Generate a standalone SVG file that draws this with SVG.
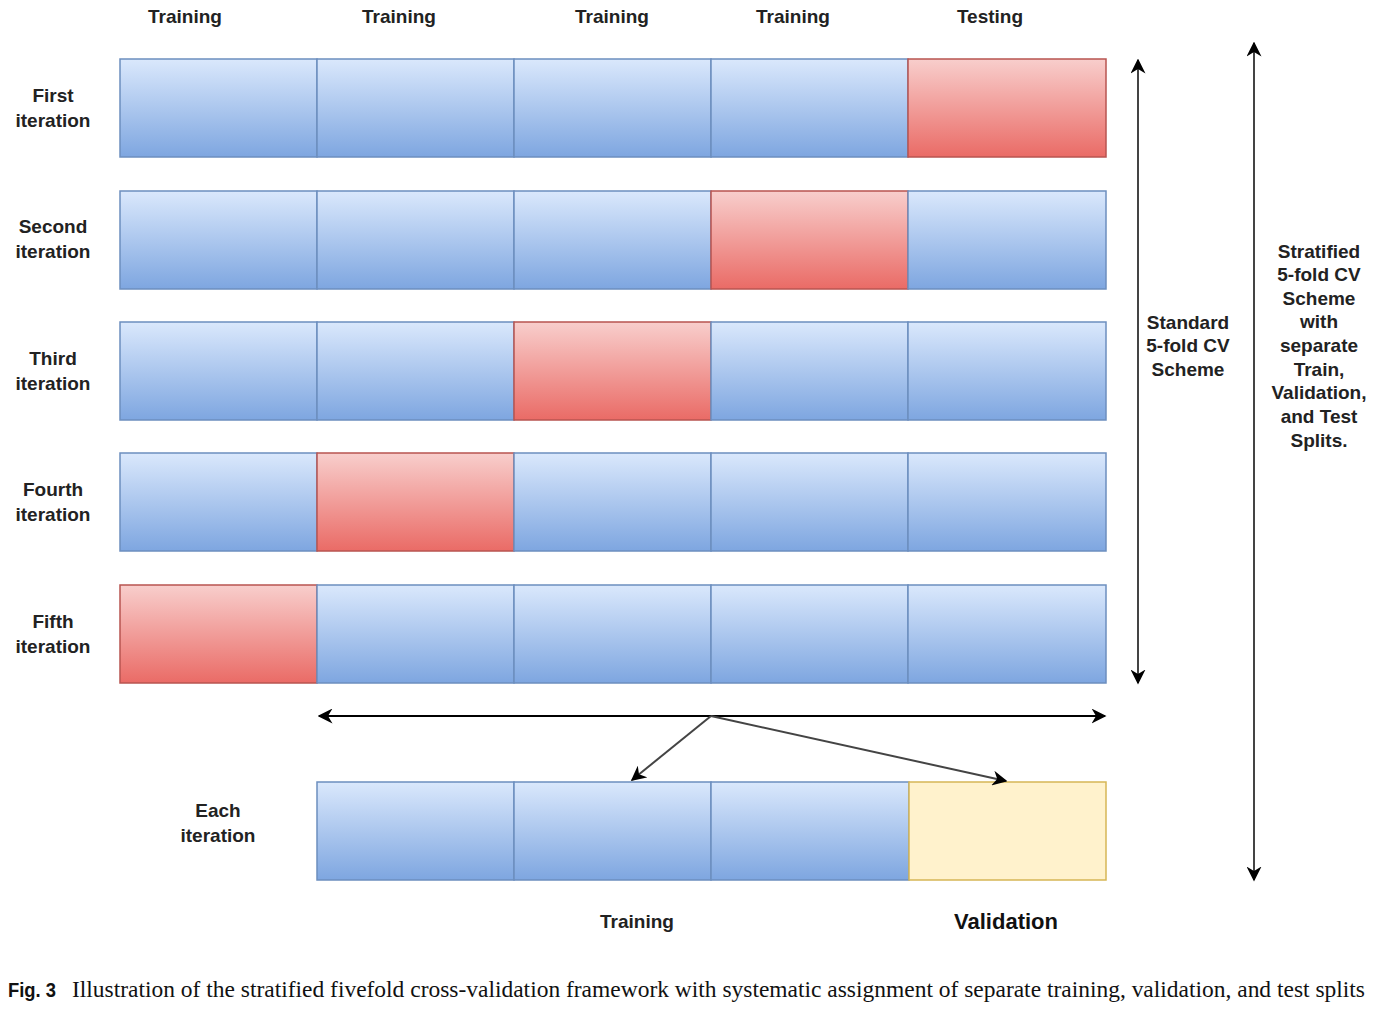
<svg xmlns="http://www.w3.org/2000/svg" width="1378" height="1011" viewBox="0 0 1378 1011">
<defs>
<linearGradient id="gb" x1="0" y1="0" x2="0" y2="1"><stop offset="0" stop-color="#dae8fc"/><stop offset="1" stop-color="#7ea6e0"/></linearGradient>
<linearGradient id="gr" x1="0" y1="0" x2="0" y2="1"><stop offset="0" stop-color="#f8cecc"/><stop offset="1" stop-color="#ea6b66"/></linearGradient>
<marker id="ah2" viewBox="0 0 10 10" refX="9" refY="5" markerWidth="15" markerHeight="15" markerUnits="userSpaceOnUse" orient="auto-start-reverse"><path d="M0,0 L10,5 L0,10 L3,5 Z" fill="#000"/></marker>
</defs>
<style>
.b{fill:url(#gb);stroke:#6c8ebf;stroke-width:1.5}
.r{fill:url(#gr);stroke:#b85450;stroke-width:1.5}
.y{fill:#fff2cc;stroke:#d6b656;stroke-width:1.5}
.t{font-family:"Liberation Sans",Arial,sans-serif;font-weight:bold;font-size:19px;fill:#222;text-anchor:middle}
.c{stroke:#000;stroke-width:2;fill:none}
.d{stroke:#444;stroke-width:2;fill:none}
</style>
<rect width="1378" height="1011" fill="#fff"/>
<g id="headers">
<text class="t" x="185" y="23">Training</text>
<text class="t" x="399" y="23">Training</text>
<text class="t" x="612" y="23">Training</text>
<text class="t" x="793" y="23">Training</text>
<text class="t" x="990" y="23">Testing</text>
</g>
<g id="row1">
<text class="t" x="53" y="102">First</text><text class="t" x="53" y="127">iteration</text>
<rect class="b" x="120" y="59" width="197" height="98"/><rect class="b" x="317" y="59" width="197" height="98"/><rect class="b" x="514" y="59" width="197" height="98"/><rect class="b" x="711" y="59" width="197" height="98"/><rect class="r" x="908" y="59" width="198" height="98"/>
</g>
<g id="row2">
<text class="t" x="53" y="233">Second</text><text class="t" x="53" y="258">iteration</text>
<rect class="b" x="120" y="191" width="197" height="98"/><rect class="b" x="317" y="191" width="197" height="98"/><rect class="b" x="514" y="191" width="197" height="98"/><rect class="r" x="711" y="191" width="197" height="98"/><rect class="b" x="908" y="191" width="198" height="98"/>
</g>
<g id="row3">
<text class="t" x="53" y="365">Third</text><text class="t" x="53" y="390">iteration</text>
<rect class="b" x="120" y="322" width="197" height="98"/><rect class="b" x="317" y="322" width="197" height="98"/><rect class="r" x="514" y="322" width="197" height="98"/><rect class="b" x="711" y="322" width="197" height="98"/><rect class="b" x="908" y="322" width="198" height="98"/>
</g>
<g id="row4">
<text class="t" x="53" y="496">Fourth</text><text class="t" x="53" y="521">iteration</text>
<rect class="b" x="120" y="453" width="197" height="98"/><rect class="r" x="317" y="453" width="197" height="98"/><rect class="b" x="514" y="453" width="197" height="98"/><rect class="b" x="711" y="453" width="197" height="98"/><rect class="b" x="908" y="453" width="198" height="98"/>
</g>
<g id="row5">
<text class="t" x="53" y="628">Fifth</text><text class="t" x="53" y="653">iteration</text>
<rect class="r" x="120" y="585" width="197" height="98"/><rect class="b" x="317" y="585" width="197" height="98"/><rect class="b" x="514" y="585" width="197" height="98"/><rect class="b" x="711" y="585" width="197" height="98"/><rect class="b" x="908" y="585" width="198" height="98"/>
</g>
<g id="each">
<text class="t" x="218" y="817">Each</text><text class="t" x="218" y="842">iteration</text>
<rect class="b" x="317" y="782" width="197" height="98"/><rect class="b" x="514" y="782" width="197" height="98"/><rect class="b" x="711" y="782" width="198" height="98"/><rect class="y" x="909" y="782" width="197" height="98"/>
<text class="t" x="637" y="928">Training</text>
<text class="t" x="1006" y="929" style="font-size:22px;fill:#111">Validation</text>
</g>
<g id="standard">
<text class="t" x="1188" y="329">Standard</text><text class="t" x="1188" y="352">5-fold CV</text><text class="t" x="1188" y="376">Scheme</text>
</g>
<g id="stratified">
<text class="t" x="1319" y="258">Stratified</text><text class="t" x="1319" y="281">5-fold CV</text><text class="t" x="1319" y="305">Scheme</text><text class="t" x="1319" y="328">with</text><text class="t" x="1319" y="352">separate</text><text class="t" x="1319" y="376">Train,</text><text class="t" x="1319" y="399">Validation,</text><text class="t" x="1319" y="423">and Test</text><text class="t" x="1319" y="447">Splits.</text>
</g>
<g id="connectors">
<line class="c" x1="319" y1="716" x2="1105" y2="716" marker-start="url(#ah2)" marker-end="url(#ah2)"/>
<line class="d" x1="711" y1="716" x2="632" y2="780" marker-end="url(#ah2)"/>
<line class="d" x1="711" y1="716" x2="1006" y2="781" marker-end="url(#ah2)"/>
<line class="d" x1="1138" y1="60" x2="1138" y2="683" marker-start="url(#ah2)" marker-end="url(#ah2)"/>
<line class="d" x1="1254" y1="43" x2="1254" y2="880" marker-start="url(#ah2)" marker-end="url(#ah2)"/>
</g>
<g id="caption">
<text x="8" y="997" style="font-family:'Liberation Sans',Arial,sans-serif;font-weight:bold;font-size:20px;fill:#111" textLength="48" lengthAdjust="spacingAndGlyphs">Fig. 3</text>
<text x="72" y="997" style="font-family:'Liberation Serif','Times New Roman',serif;font-size:23px;fill:#111" textLength="1293" lengthAdjust="spacingAndGlyphs">Illustration of the stratified fivefold cross-validation framework with systematic assignment of separate training, validation, and test splits</text>
</g>
</svg>
